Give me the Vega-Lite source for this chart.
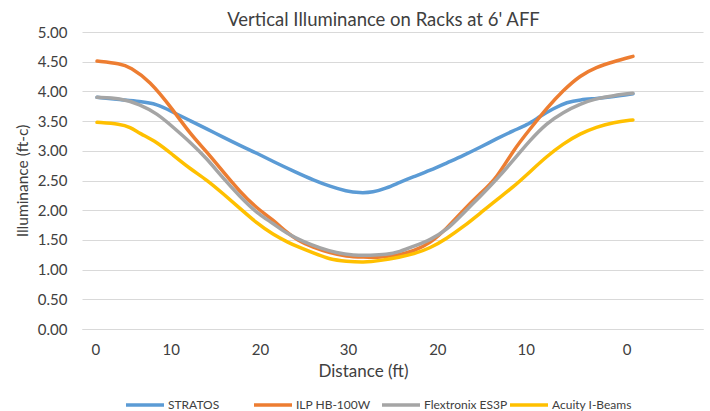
{
  "$schema": "https://vega.github.io/schema/vega-lite/v6.json",
  "width": 621,
  "height": 297,
  "autosize": {"type": "none"},
  "padding": {"left": 82, "top": 32, "right": 7, "bottom": 82},
  "background": "white",
  "title": {
    "text": "Vertical Illuminance on Racks at 6' AFF",
    "fontSize": 18.5,
    "fontWeight": "normal",
    "font": "Lato",
    "color": "#404040",
    "dx": -9,
    "offset": -4
  },
  "config": {
    "view": {"stroke": null},
    "font": "Lato",
    "axis": {
      "labelFont": "Lato",
      "labelFontSize": 15,
      "labelColor": "#404040",
      "titleFont": "Lato",
      "titleFontWeight": "normal",
      "titleColor": "#404040",
      "gridColor": "#D9D9D9",
      "domainColor": "#D9D9D9",
      "ticks": false,
      "tickSize": 0
    },
    "legend": {
      "labelFont": "Lato",
      "labelFontSize": 12,
      "labelColor": "#404040"
    }
  },
  "data": {
    "values": [
      {"s": "STRATOS", "d": 0, "v": 3.90},
      {"s": "STRATOS", "d": 2.6, "v": 3.86},
      {"s": "STRATOS", "d": 4.8, "v": 3.83},
      {"s": "STRATOS", "d": 6.7, "v": 3.79},
      {"s": "STRATOS", "d": 8.5, "v": 3.65},
      {"s": "STRATOS", "d": 10.4, "v": 3.51},
      {"s": "STRATOS", "d": 12.3, "v": 3.37},
      {"s": "STRATOS", "d": 14.1, "v": 3.23},
      {"s": "STRATOS", "d": 16.0, "v": 3.09},
      {"s": "STRATOS", "d": 17.9, "v": 2.96},
      {"s": "STRATOS", "d": 19.7, "v": 2.82},
      {"s": "STRATOS", "d": 22.4, "v": 2.63},
      {"s": "STRATOS", "d": 24.2, "v": 2.51},
      {"s": "STRATOS", "d": 26.1, "v": 2.40},
      {"s": "STRATOS", "d": 27.9, "v": 2.32},
      {"s": "STRATOS", "d": 29.4, "v": 2.29},
      {"s": "STRATOS", "d": 30.9, "v": 2.30},
      {"s": "STRATOS", "d": 32.4, "v": 2.37},
      {"s": "STRATOS", "d": 33.9, "v": 2.47},
      {"s": "STRATOS", "d": 35.4, "v": 2.56},
      {"s": "STRATOS", "d": 37.3, "v": 2.67},
      {"s": "STRATOS", "d": 39.2, "v": 2.80},
      {"s": "STRATOS", "d": 41.0, "v": 2.92},
      {"s": "STRATOS", "d": 42.9, "v": 3.06},
      {"s": "STRATOS", "d": 44.7, "v": 3.20},
      {"s": "STRATOS", "d": 46.6, "v": 3.34},
      {"s": "STRATOS", "d": 48.1, "v": 3.43},
      {"s": "STRATOS", "d": 49.6, "v": 3.58},
      {"s": "STRATOS", "d": 51.1, "v": 3.71},
      {"s": "STRATOS", "d": 52.6, "v": 3.82},
      {"s": "STRATOS", "d": 54.1, "v": 3.86},
      {"s": "STRATOS", "d": 55.9, "v": 3.88},
      {"s": "STRATOS", "d": 57.8, "v": 3.91},
      {"s": "STRATOS", "d": 60.0, "v": 3.96},

      {"s": "ILP HB-100W", "d": 0, "v": 4.51},
      {"s": "ILP HB-100W", "d": 2.6, "v": 4.47},
      {"s": "ILP HB-100W", "d": 3.7, "v": 4.41},
      {"s": "ILP HB-100W", "d": 5.9, "v": 4.18},
      {"s": "ILP HB-100W", "d": 8.5, "v": 3.69},
      {"s": "ILP HB-100W", "d": 10.4, "v": 3.29},
      {"s": "ILP HB-100W", "d": 12.3, "v": 2.98},
      {"s": "ILP HB-100W", "d": 14.1, "v": 2.65},
      {"s": "ILP HB-100W", "d": 16.0, "v": 2.31},
      {"s": "ILP HB-100W", "d": 17.9, "v": 2.03},
      {"s": "ILP HB-100W", "d": 19.7, "v": 1.84},
      {"s": "ILP HB-100W", "d": 21.2, "v": 1.63},
      {"s": "ILP HB-100W", "d": 22.4, "v": 1.50},
      {"s": "ILP HB-100W", "d": 24.2, "v": 1.37},
      {"s": "ILP HB-100W", "d": 26.1, "v": 1.28},
      {"s": "ILP HB-100W", "d": 27.9, "v": 1.22},
      {"s": "ILP HB-100W", "d": 29.8, "v": 1.21},
      {"s": "ILP HB-100W", "d": 31.7, "v": 1.20},
      {"s": "ILP HB-100W", "d": 33.9, "v": 1.25},
      {"s": "ILP HB-100W", "d": 35.4, "v": 1.31},
      {"s": "ILP HB-100W", "d": 37.3, "v": 1.44},
      {"s": "ILP HB-100W", "d": 39.2, "v": 1.70},
      {"s": "ILP HB-100W", "d": 41.0, "v": 2.00},
      {"s": "ILP HB-100W", "d": 42.9, "v": 2.28},
      {"s": "ILP HB-100W", "d": 44.7, "v": 2.53},
      {"s": "ILP HB-100W", "d": 46.6, "v": 3.01},
      {"s": "ILP HB-100W", "d": 48.5, "v": 3.37},
      {"s": "ILP HB-100W", "d": 50.3, "v": 3.71},
      {"s": "ILP HB-100W", "d": 52.2, "v": 4.02},
      {"s": "ILP HB-100W", "d": 54.1, "v": 4.27},
      {"s": "ILP HB-100W", "d": 55.9, "v": 4.41},
      {"s": "ILP HB-100W", "d": 57.8, "v": 4.50},
      {"s": "ILP HB-100W", "d": 60.0, "v": 4.59},

      {"s": "Flextronix ES3P", "d": 0, "v": 3.90},
      {"s": "Flextronix ES3P", "d": 2.6, "v": 3.89},
      {"s": "Flextronix ES3P", "d": 4.8, "v": 3.78},
      {"s": "Flextronix ES3P", "d": 6.7, "v": 3.63},
      {"s": "Flextronix ES3P", "d": 8.5, "v": 3.40},
      {"s": "Flextronix ES3P", "d": 10.4, "v": 3.15},
      {"s": "Flextronix ES3P", "d": 12.3, "v": 2.87},
      {"s": "Flextronix ES3P", "d": 14.1, "v": 2.54},
      {"s": "Flextronix ES3P", "d": 16.0, "v": 2.23},
      {"s": "Flextronix ES3P", "d": 17.9, "v": 1.95},
      {"s": "Flextronix ES3P", "d": 19.7, "v": 1.78},
      {"s": "Flextronix ES3P", "d": 21.2, "v": 1.61},
      {"s": "Flextronix ES3P", "d": 23.1, "v": 1.47},
      {"s": "Flextronix ES3P", "d": 25.0, "v": 1.36},
      {"s": "Flextronix ES3P", "d": 26.8, "v": 1.28},
      {"s": "Flextronix ES3P", "d": 28.7, "v": 1.24},
      {"s": "Flextronix ES3P", "d": 30.6, "v": 1.24},
      {"s": "Flextronix ES3P", "d": 32.4, "v": 1.25},
      {"s": "Flextronix ES3P", "d": 33.9, "v": 1.30},
      {"s": "Flextronix ES3P", "d": 35.4, "v": 1.39},
      {"s": "Flextronix ES3P", "d": 37.3, "v": 1.50},
      {"s": "Flextronix ES3P", "d": 39.2, "v": 1.67},
      {"s": "Flextronix ES3P", "d": 41.0, "v": 1.95},
      {"s": "Flextronix ES3P", "d": 42.9, "v": 2.23},
      {"s": "Flextronix ES3P", "d": 44.7, "v": 2.51},
      {"s": "Flextronix ES3P", "d": 46.6, "v": 2.84},
      {"s": "Flextronix ES3P", "d": 48.5, "v": 3.18},
      {"s": "Flextronix ES3P", "d": 50.3, "v": 3.46},
      {"s": "Flextronix ES3P", "d": 52.2, "v": 3.65},
      {"s": "Flextronix ES3P", "d": 54.1, "v": 3.79},
      {"s": "Flextronix ES3P", "d": 55.9, "v": 3.88},
      {"s": "Flextronix ES3P", "d": 57.8, "v": 3.93},
      {"s": "Flextronix ES3P", "d": 60.0, "v": 3.97},

      {"s": "Acuity I-Beams", "d": 0, "v": 3.48},
      {"s": "Acuity I-Beams", "d": 2.6, "v": 3.45},
      {"s": "Acuity I-Beams", "d": 3.7, "v": 3.40},
      {"s": "Acuity I-Beams", "d": 4.8, "v": 3.29},
      {"s": "Acuity I-Beams", "d": 6.7, "v": 3.15},
      {"s": "Acuity I-Beams", "d": 8.5, "v": 2.93},
      {"s": "Acuity I-Beams", "d": 10.4, "v": 2.70},
      {"s": "Acuity I-Beams", "d": 12.3, "v": 2.51},
      {"s": "Acuity I-Beams", "d": 14.1, "v": 2.28},
      {"s": "Acuity I-Beams", "d": 16.0, "v": 2.03},
      {"s": "Acuity I-Beams", "d": 17.9, "v": 1.78},
      {"s": "Acuity I-Beams", "d": 19.7, "v": 1.59},
      {"s": "Acuity I-Beams", "d": 21.5, "v": 1.45},
      {"s": "Acuity I-Beams", "d": 22.4, "v": 1.39},
      {"s": "Acuity I-Beams", "d": 24.2, "v": 1.28},
      {"s": "Acuity I-Beams", "d": 26.1, "v": 1.17},
      {"s": "Acuity I-Beams", "d": 27.9, "v": 1.14},
      {"s": "Acuity I-Beams", "d": 29.8, "v": 1.12},
      {"s": "Acuity I-Beams", "d": 31.7, "v": 1.15},
      {"s": "Acuity I-Beams", "d": 33.9, "v": 1.21},
      {"s": "Acuity I-Beams", "d": 35.4, "v": 1.26},
      {"s": "Acuity I-Beams", "d": 37.3, "v": 1.36},
      {"s": "Acuity I-Beams", "d": 39.2, "v": 1.53},
      {"s": "Acuity I-Beams", "d": 41.0, "v": 1.72},
      {"s": "Acuity I-Beams", "d": 42.9, "v": 1.95},
      {"s": "Acuity I-Beams", "d": 44.7, "v": 2.17},
      {"s": "Acuity I-Beams", "d": 46.6, "v": 2.39},
      {"s": "Acuity I-Beams", "d": 48.5, "v": 2.65},
      {"s": "Acuity I-Beams", "d": 50.3, "v": 2.90},
      {"s": "Acuity I-Beams", "d": 52.2, "v": 3.12},
      {"s": "Acuity I-Beams", "d": 54.1, "v": 3.29},
      {"s": "Acuity I-Beams", "d": 55.9, "v": 3.40},
      {"s": "Acuity I-Beams", "d": 57.8, "v": 3.48},
      {"s": "Acuity I-Beams", "d": 60.0, "v": 3.52}
    ]
  },
  "mark": {"type": "line", "interpolate": "basis", "strokeWidth": 3.5, "strokeCap": "round"},
  "encoding": {
    "x": {
      "field": "d",
      "type": "quantitative",
      "scale": {"domain": [-1.68, 67.84], "nice": false, "zero": false},
      "axis": {
        "title": "Distance (ft)",
        "titleFontSize": 17,
        "titleX": 281,
        "titlePadding": 6,
        "grid": false,
        "domain": true,
        "labelPadding": 13,
        "values": [-0.2, 8.25, 18.25, 28.1, 38.1, 48.0, 59.3],
        "labelExpr": "datum.value < 4 ? '0' : datum.value < 13 ? '10' : datum.value < 23 ? '20' : datum.value < 33 ? '30' : datum.value < 43 ? '20' : datum.value < 53 ? '10' : '0'"
      }
    },
    "y": {
      "field": "v",
      "type": "quantitative",
      "scale": {"domain": [0, 5], "nice": false},
      "axis": {
        "title": "Illuminance (ft-c)",
        "titleFontSize": 15.5,
        "titlePadding": 7,
        "values": [0, 0.5, 1, 1.5, 2, 2.5, 3, 3.5, 4, 4.5, 5],
        "format": ".2f",
        "domain": false,
        "grid": true,
        "labelPadding": 15
      }
    },
    "color": {
      "field": "s",
      "type": "nominal",
      "sort": null,
      "scale": {
        "domain": ["STRATOS", "ILP HB-100W", "Flextronix ES3P", "Acuity I-Beams"],
        "range": ["#5B9BD5", "#ED7D31", "#A5A5A5", "#FFC000"]
      },
      "legend": {
        "title": null,
        "orient": "none",
        "direction": "horizontal",
        "legendX": 42,
        "legendY": 352,
        "symbolType": "stroke",
        "symbolSize": 1444,
        "symbolStrokeWidth": 3.5,
        "labelOffset": 2,
        "gridAlign": "all",
        "columnPadding": -5
      }
    }
  }
}
